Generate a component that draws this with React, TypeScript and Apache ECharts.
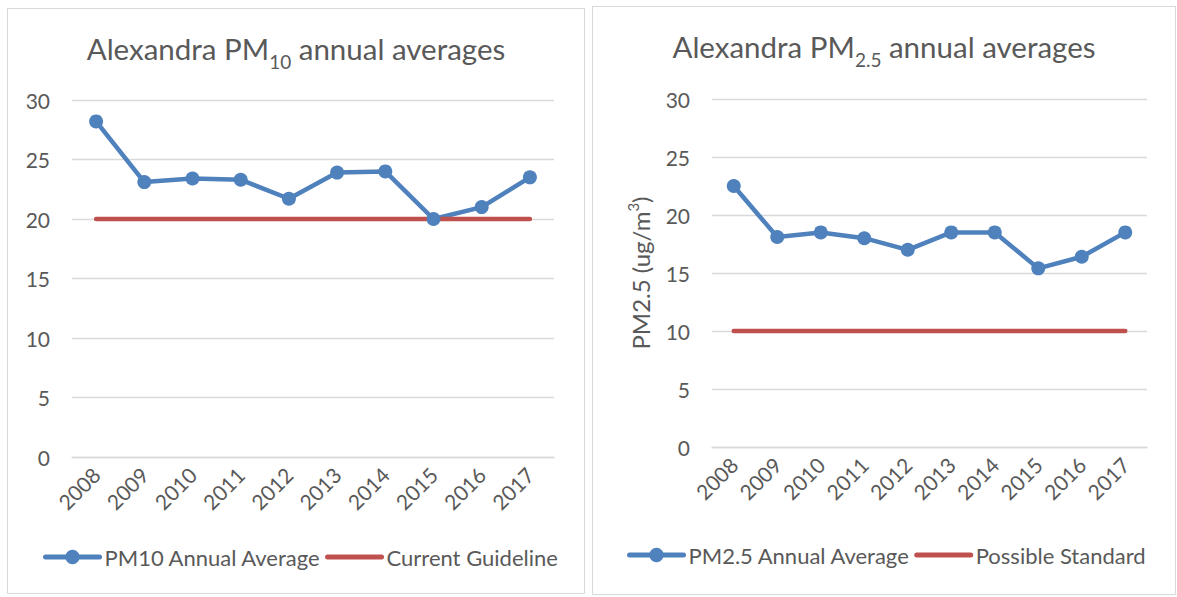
import React, { useEffect, useRef } from "react";
import * as echarts from "echarts";

const years = ["2008", "2009", "2010", "2011", "2012", "2013", "2014", "2015", "2016", "2017"];
const pm10Values = [28.2, 23.1, 23.4, 23.3, 21.7, 23.9, 24.0, 20.0, 21.0, 23.5];
const pm10Guideline = [20, 20, 20, 20, 20, 20, 20, 20, 20, 20];
const pm25Values = [22.5, 18.1, 18.5, 18.0, 17.0, 18.5, 18.5, 15.4, 16.4, 18.5];
const pm25Standard = [10, 10, 10, 10, 10, 10, 10, 10, 10, 10];

const BLUE = "#4F81BD";
const RED = "#C0504D";
const TEXT = "#595959";
const GRID = "#D9D9D9";
const FONT = "Lato, 'Open Sans', sans-serif";

function buildOption(cfg: {
  titleSub: string;
  grid: any;
  yName?: boolean;
  names: [string, string];
  values: number[];
  ref: number[];
  legendLeft: number;
}) {
  return {
    animation: false,
    textStyle: { fontFamily: FONT },
    title: {
      text: `{a|Alexandra PM}{s|${cfg.titleSub}}{a| annual averages}`,
      left: "center",
      top: 16,
      textStyle: {
        fontWeight: "normal",
        rich: {
          a: { fontSize: 29.5, fontWeight: "normal", color: TEXT, fontFamily: FONT, lineHeight: 37 },
          s: { fontSize: 19, fontWeight: "normal", color: TEXT, fontFamily: FONT, height: 12, verticalAlign: "bottom" },
        },
      },
    },
    legend: {
      left: cfg.legendLeft,
      top: 532,
      itemWidth: 54,
      itemHeight: 18,
      itemGap: 4,
      lineStyle: { width: 5 },
      textStyle: { color: TEXT, fontSize: 22, fontFamily: FONT },
      data: [
        { name: cfg.names[0] },
        { name: cfg.names[1], itemStyle: { opacity: 0 } },
      ],
    },
    grid: cfg.grid,
    xAxis: {
      type: "category",
      data: years,
      boundaryGap: true,
      axisLine: { show: true, lineStyle: { color: GRID, width: 1.3 } },
      axisTick: { show: false },
      axisLabel: { color: TEXT, fontSize: 21, rotate: 45, margin: 14, fontFamily: FONT },
    },
    yAxis: {
      type: "value",
      min: 0,
      max: 30,
      interval: 5,
      axisLine: { show: false },
      axisTick: { show: false },
      axisLabel: { color: TEXT, fontSize: 21, margin: 22, fontFamily: FONT },
      splitLine: { lineStyle: { color: GRID, width: 1.3 } },
      ...(cfg.yName
        ? {
            name: "{n|PM2.5 (ug/m}{p|3}{n|)}",
            nameLocation: "middle",
            nameRotate: 90,
            nameGap: 57,
            nameTextStyle: {
              rich: {
                n: { fontSize: 24, color: TEXT, fontFamily: FONT, lineHeight: 30 },
                p: { fontSize: 15, color: TEXT, fontFamily: FONT, height: 16, verticalAlign: "top" },
              },
            },
          }
        : {}),
    },
    series: [
      {
        name: cfg.names[0],
        type: "line",
        data: cfg.values,
        symbol: "circle",
        symbolSize: 14,
        itemStyle: { color: BLUE },
        lineStyle: { color: BLUE, width: 4.5, cap: "round", join: "round" },
      },
      {
        name: cfg.names[1],
        type: "line",
        data: cfg.ref,
        symbol: "none",
        itemStyle: { color: RED },
        lineStyle: { color: RED, width: 4.5, cap: "round" },
      },
    ],
  };
}

function ChartBox(props: { left: number; top: number; width: number; height: number; option: any }) {
  const ref = useRef<HTMLDivElement>(null);
  useEffect(() => {
    if (!ref.current) return;
    const chart = echarts.init(ref.current, undefined, { renderer: "svg" });
    chart.setOption(props.option);
    return () => chart.dispose();
  }, []);
  return (
    <div
      style={{
        position: "absolute",
        left: props.left,
        top: props.top,
        width: props.width,
        height: props.height,
        border: `1px solid ${GRID}`,
        boxSizing: "border-box",
        background: "#fff",
      }}
    >
      <div ref={ref} style={{ width: props.width - 2, height: props.height - 2 }} />
    </div>
  );
}

export default function App() {
  const leftOpt = buildOption({
    titleSub: "10",
    grid: { left: 64, right: 30, top: 91, bottom: 136 },
    names: ["PM10 Annual Average", "Current Guideline"],
    values: pm10Values,
    ref: pm10Guideline,
    legendLeft: 30,
  });
  const rightOpt = buildOption({
    titleSub: "2.5",
    grid: { left: 119, right: 28, top: 92, bottom: 147 },
    yName: true,
    names: ["PM2.5 Annual Average", "Possible Standard"],
    values: pm25Values,
    ref: pm25Standard,
    legendLeft: 29,
  });
  return (
    <div style={{ position: "fixed", left: 0, top: 0, width: 1177, height: 597, background: "#fff" }}>
      <ChartBox left={7} top={8} width={578} height={586} option={leftOpt} />
      <ChartBox left={592} top={6} width={584} height={589} option={rightOpt} />
    </div>
  );
}
